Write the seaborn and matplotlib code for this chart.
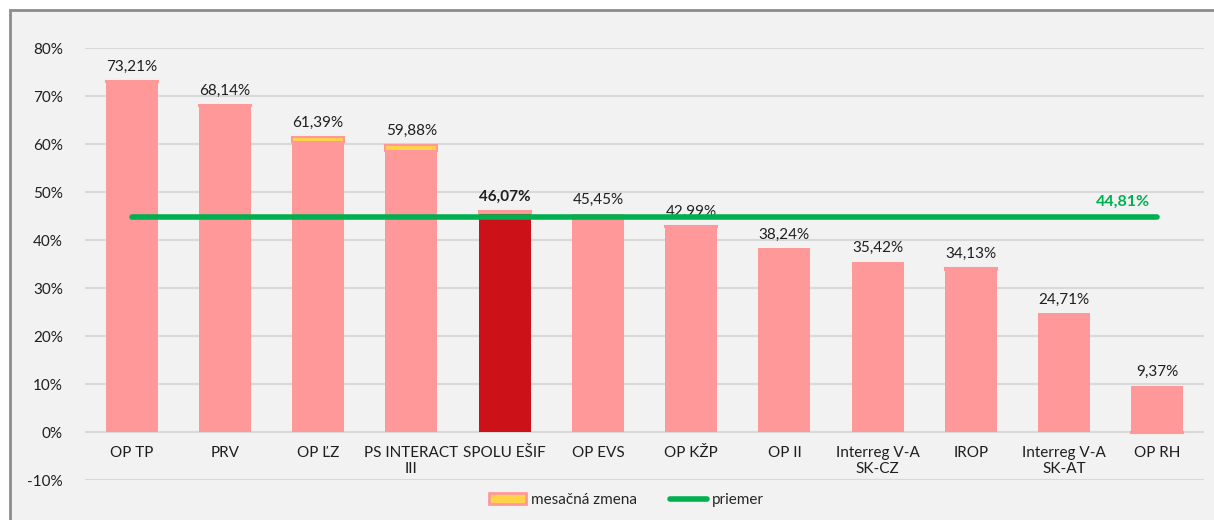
import numpy as np
import pandas as pd
import matplotlib
matplotlib.use("Agg")
import matplotlib.pyplot as plt
import seaborn as sns
from matplotlib.patches import Patch, Rectangle
from matplotlib.lines import Line2D

# -----------------------------
# Data (percent)
# -----------------------------
programs = ["OP TP", "PRV", "OP ĽZ", "PS INTERACT\nIII", "SPOLU EŠIF", "OP EVS",
            "OP KŽP", "OP II", "Interreg V-A\nSK-CZ", "IROP", "Interreg V-A\nSK-AT", "OP RH"]
totals = [73.21, 68.14, 61.39, 59.88, 46.07, 45.45, 42.99, 38.24, 35.42, 34.13, 24.71, 9.37]
monthly_change = [0.2, 0.3, 0.9, 1.4, 0.5, 0.0, 0.2, 0.0, 0.0, 0.3, 0.0, -0.2]
average = 44.81
total_label = "SPOLU EŠIF"

df = pd.DataFrame({"program": programs, "total": totals, "change": monthly_change})
df["base"] = df["total"] - df["change"]
df["kind"] = np.where(df["program"] == total_label, "total", "program")
df["pos"] = np.arange(len(programs))

# -----------------------------
# Colors
# -----------------------------
PINK = "#FF9999"
DARK_RED = "#CC1119"
YELLOW = "#FFD348"
GREEN = "#00B050"
BG = "#F2F2F2"
GRID = "#D9D9D9"
TEXT = "#1F1F1F"

sns.set_style("white")
plt.rcParams["font.family"] = ["Lato", "DejaVu Sans"]

fig = plt.figure(figsize=(12.14, 5.2), dpi=100)
fig.patch.set_facecolor("white")
# chart frame (light grey area with grey border, cropped on the right/bottom)
frame = Rectangle((10 / 1214, -0.05), 1.1, 1.05 - 10 / 520,
                  transform=fig.transFigure, facecolor=BG,
                  edgecolor="#8C8C8C", linewidth=2, zorder=-10)
fig.patches.append(frame)

ax = fig.add_axes([85 / 1214, 1 - 480 / 520, (1204 - 85) / 1214, (480 - 48) / 520])
ax.set_facecolor(BG)
ax.set_zorder(1)

# base bars
sns.barplot(data=df, x="program", y="base", hue="kind",
            palette={"program": PINK, "total": DARK_RED}, saturation=1,
            width=0.56, dodge=False, legend=False, ax=ax,
            edgecolor="none", zorder=2)

# monthly change stacked on top (negative goes below zero)
chg = df[df["change"] != 0]
bottoms = np.where(chg["change"] > 0, chg["base"], 0)
ax.bar(chg["pos"], chg["change"], bottom=bottoms, width=0.56, color=YELLOW,
       edgecolor=PINK, linewidth=1.5, zorder=3)

# average line
ax.hlines(average, 0, len(programs) - 1, color=GREEN, linewidth=4, zorder=4,
          capstyle="round")
ax.annotate(f"{average:.2f}%".replace(".", ","), (len(programs) - 1, average),
            xytext=(-5, 6), textcoords="offset points", ha="right", va="bottom",
            color=GREEN, fontsize=11.5, fontweight="bold")

# value labels
for i, row in df.iterrows():
    top = max(row["base"], row["total"])
    ax.annotate(f"{row['total']:.2f}%".replace(".", ","), (i, top),
                xytext=(0, 5), textcoords="offset points", ha="center", va="bottom",
                fontsize=11, color=TEXT,
                fontweight="bold" if row["program"] == total_label else "normal")

# category labels just under the zero line
for i, name in enumerate(programs):
    ax.text(i, -2.9, name, ha="center", va="top", fontsize=11, color=TEXT,
            linespacing=1.15)

ax.set_ylim(-10, 80)
ax.set_xlim(-0.5, len(programs) - 0.5)
ax.set_yticks(range(-10, 81, 10))
ax.set_yticklabels([f"{v}%" for v in range(-10, 81, 10)], fontsize=11, color=TEXT)
ax.set_xticks([])
ax.set_xlabel("")
ax.set_ylabel("")
ax.tick_params(axis="y", length=0, pad=16)
ax.grid(axis="y", color=GRID, linewidth=1.5, zorder=0)
ax.set_axisbelow(True)
for s in ax.spines.values():
    s.set_visible(False)

handles = [Patch(facecolor=YELLOW, edgecolor=PINK, linewidth=2),
           Line2D([0], [0], color=GREEN, linewidth=4)]
fig.legend(handles, ["mesačná zmena", "priemer"], loc="center",
           bbox_to_anchor=(0.516, 1 - 500 / 520), ncol=2, frameon=False,
           fontsize=11, handlelength=2.4, handletextpad=0.3, columnspacing=2.2)

fig.savefig("out.png", dpi=100, facecolor=fig.get_facecolor())
